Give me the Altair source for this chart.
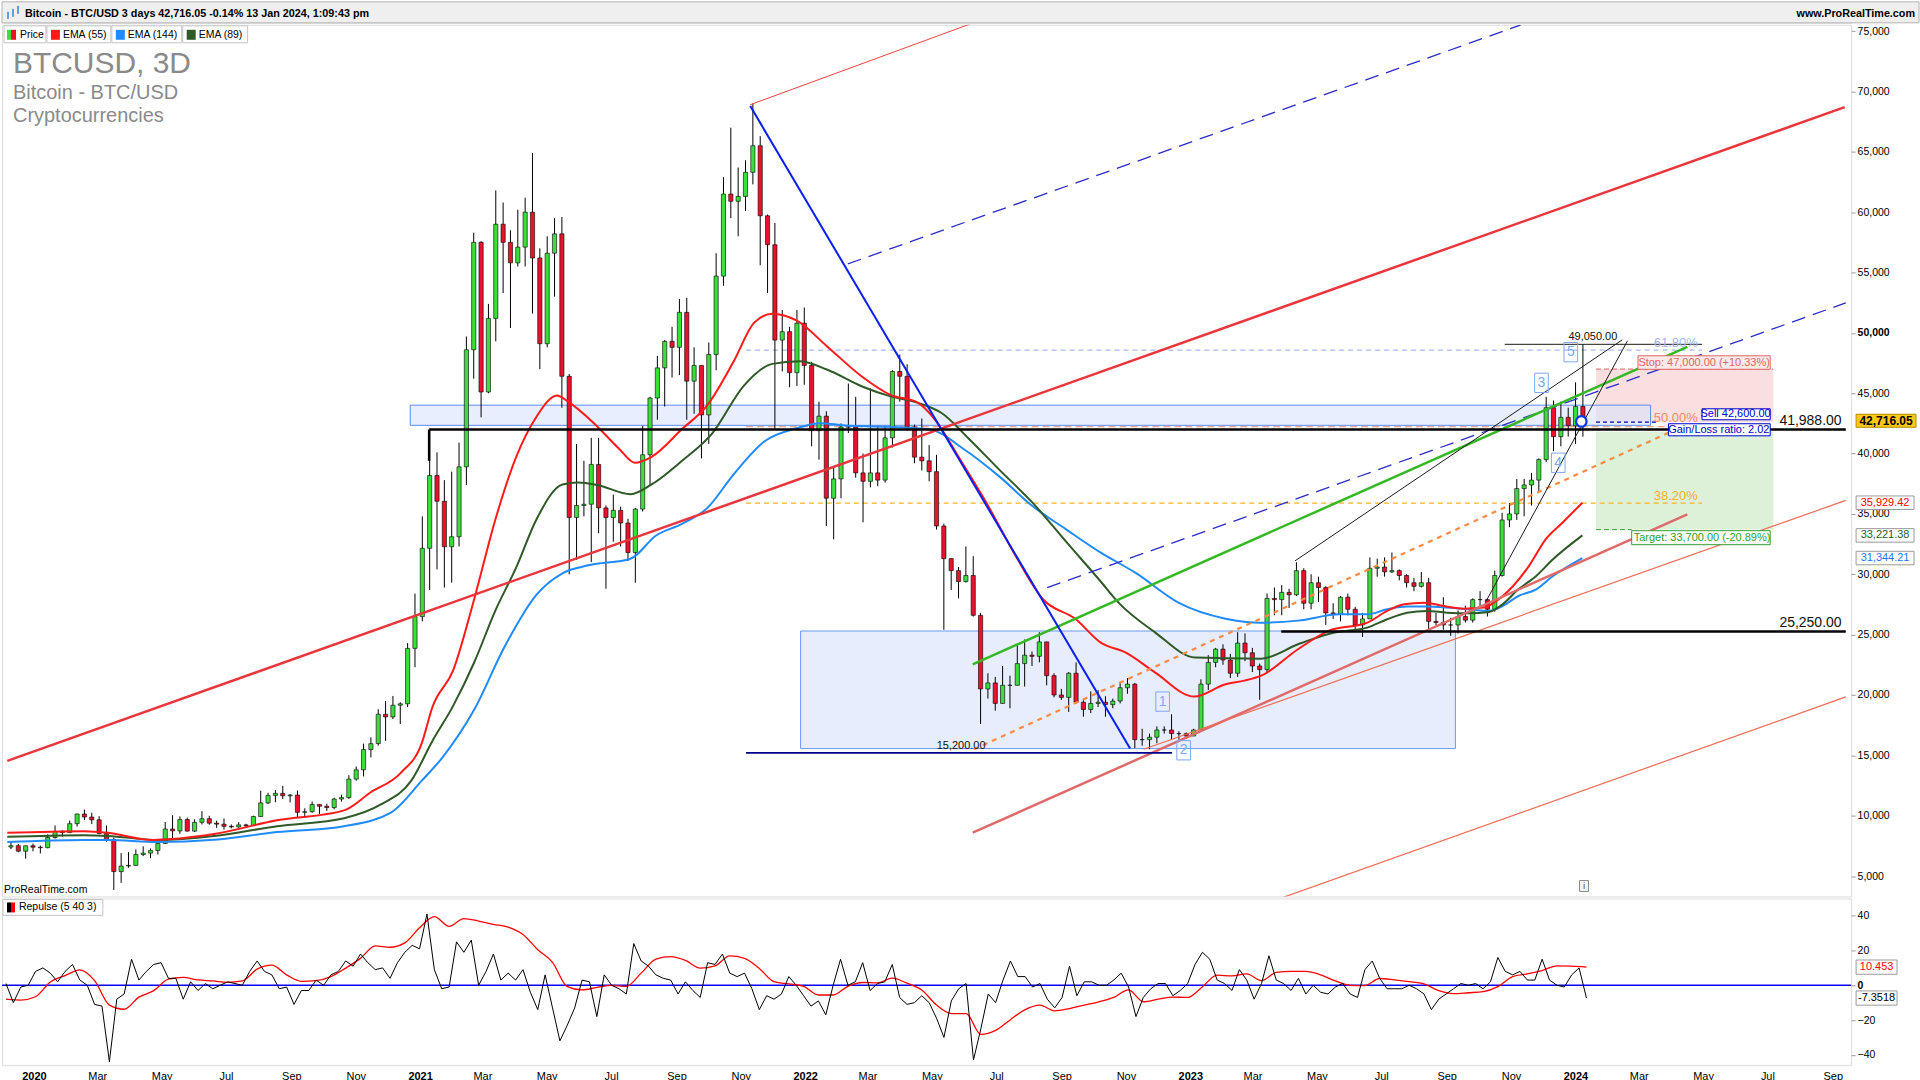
import altair as alt
import pandas as pd

FONT = "Liberation Sans"

# ================= DATA =================
# Weekly candles, weeks starting Mon 2019-12-02 ... Mon 2024-01-08 (open = previous close)
first_open = 7400
close_px = [7510, 7060, 7510, 7390, 7350, 8190, 8700, 8600, 9340, 10140,
            9890, 9660, 8530, 8030, 5370, 5830, 5880, 6780, 6900, 7120,
            7700, 8900, 8740, 9680, 8720, 9450, 9750, 9380, 9300, 9120,
            9070, 9240, 9170, 9930, 11060, 11680, 11850, 11650, 11710, 10280,
            10330, 10930, 10780, 10670, 11380, 11500, 13030, 13800, 15480, 15970,
            18400, 18180, 19150, 19270, 23860, 26490, 32150, 38180, 36050, 32280,
            33110, 38900, 48600, 57500, 45100, 51200, 59000, 57500, 55800, 57100,
            60000, 56200, 49100, 56600, 58200, 46400, 34700, 35700, 35800, 39100,
            35500, 34700, 35300, 34250, 31800, 35400, 39900, 44600, 47100, 49300,
            48800, 51700, 46000, 47300, 43200, 48200, 54700, 61500, 60900, 61300,
            63300, 65500, 59700, 57300, 49400, 50100, 46700, 50800, 47300, 41900,
            43100, 36300, 37900, 42200, 42200, 38400, 37700, 38400, 37800, 41300,
            46800, 46400, 42200, 39700, 39400, 38500, 34000, 31300, 30300, 29400,
            29900, 26600, 20500, 21000, 19300, 20800, 20800, 22600, 23300, 23200,
            24400, 21600, 20000, 19800, 21800, 19400, 18800, 19300, 19400, 19200,
            19500, 20600, 20900, 16300, 16300, 16500, 17100, 17100, 16800, 16800,
            16600, 17100, 20900, 22700, 23800, 22900, 21800, 24300, 23500, 22400,
            22100, 28000, 27900, 28500, 28300, 30300, 27600, 29300, 28900, 26800,
            26700, 28100, 27100, 25800, 26300, 30500, 30600, 30200, 30300, 29900,
            29300, 29000, 29300, 26100, 26000, 25800, 25800, 26500, 26200, 27900,
            27900, 27100, 29900, 34500, 35000, 37100, 37400, 37800, 39500, 43800,
            41400, 43000, 42300, 43900, 42716.05]
high_px = [7860, 7650, 7520, 7690, 7520, 8460, 9190, 8800, 9600, 10170,
           10500, 10250, 9960, 9190, 8180, 6900, 6980, 7200, 7460, 7290,
           7770, 9470, 10040, 9940, 9850, 9700, 10380, 9990, 9590, 9770,
           9270, 9470, 9330, 10000, 12070, 11900, 12120, 12470, 11800, 12090,
           10610, 11180, 10940, 10990, 11490, 11740, 13350, 14080, 15970, 16490,
           18820, 19500, 19920, 19400, 24300, 28400, 34800, 41950, 40100, 37800,
           38500, 40900, 49700, 58300, 57600, 52400, 61800, 60800, 58500, 60200,
           61200, 64900, 57000, 58000, 59500, 59600, 46600, 40800, 39400, 41300,
           41300, 35700, 36600, 35600, 34600, 35500, 42300, 44700, 48100, 49400,
           50500, 52800, 52900, 48800, 47300, 49200, 56600, 62900, 67000, 63700,
           64300, 69000, 66300, 59800, 59100, 51900, 50500, 51900, 52100, 47600,
           44300, 43500, 38900, 42500, 45800, 44700, 40000, 45400, 42300, 42300,
           46900, 48200, 47400, 42400, 42900, 40700, 39900, 34200, 31300, 30600,
           32300, 31500, 26800, 21800, 21500, 22400, 21600, 24200, 24600, 23600,
           25200, 24400, 21800, 20500, 21900, 22700, 19700, 20300, 20400, 19900,
           19700, 21000, 21400, 21000, 17200, 16800, 17400, 17400, 18400, 17000,
           16900, 17200, 21300, 23300, 23900, 24200, 23400, 25200, 25100, 23900,
           22600, 28400, 28900, 29100, 28800, 31000, 30500, 30000, 29800, 29000,
           27600, 28200, 28400, 27300, 26800, 31400, 31300, 31400, 31800, 30400,
           30000, 29700, 30200, 29700, 26800, 28100, 26400, 27000, 27400, 28000,
           28600, 28000, 30300, 35100, 35900, 37900, 37900, 38400, 39600, 44700,
           44400, 44300, 43800, 45900, 49050]
low_px = [7230, 6970, 6440, 7050, 6870, 7300, 8100, 8250, 8560, 9100,
          9650, 9300, 8460, 7850, 3850, 4440, 5690, 5860, 6650, 6480,
          6790, 7650, 8100, 8500, 8700, 8640, 9270, 9250, 8990, 8850,
          8950, 9000, 9050, 9150, 9920, 10960, 11110, 11380, 11100, 9880,
          9880, 10240, 10150, 10400, 10530, 11160, 11390, 12900, 13250, 14830,
          15800, 16200, 18000, 17600, 19000, 22300, 26100, 28700, 30400, 28900,
          29300, 32300, 37400, 46200, 43000, 45000, 49300, 53300, 50400, 55500,
          55500, 51600, 47000, 48800, 53000, 43800, 30000, 31200, 34800, 31000,
          33400, 28800, 32700, 32300, 31100, 29300, 35200, 37300, 42800, 43900,
          46300, 46500, 42800, 43300, 39600, 40800, 46900, 53900, 59500, 58000,
          60100, 62300, 55600, 53300, 42000, 46800, 45500, 45600, 45700, 40600,
          39500, 34000, 32900, 36300, 41700, 38000, 34300, 37200, 37300, 37600,
          40500, 44300, 41900, 39200, 38600, 37700, 33700, 25400, 28700, 28000,
          29300, 26500, 17600, 19700, 18700, 19300, 18900, 20800, 20700, 22400,
          22700, 20800, 19800, 19600, 18600, 19300, 18200, 18500, 19000, 18200,
          18900, 19300, 20100, 15600, 15800, 15500, 16000, 16800, 16300, 16300,
          16400, 16600, 17100, 20400, 22300, 22500, 21400, 21500, 22800, 21900,
          19600, 21900, 26600, 26600, 27200, 28200, 27100, 27100, 27700, 25800,
          26300, 26100, 26600, 25400, 24800, 26300, 29800, 29800, 30100, 29500,
          28900, 28600, 28900, 25200, 25800, 25400, 24900, 25100, 26000, 26000,
          27200, 26500, 26900, 29800, 33900, 34500, 34800, 35700, 36900, 39300,
          40200, 40600, 41400, 40800, 41400]

ema55_dates = ["2019-12-02", "2020-02-13", "2020-03-07", "2020-04-18", "2020-06-16", "2020-08-15",
               "2020-10-18", "2020-11-12", "2020-12-11", "2020-12-31", "2021-01-10", "2021-01-30",
               "2021-02-19", "2021-03-11", "2021-03-31", "2021-04-19", "2021-05-09", "2021-05-19",
               "2021-06-13", "2021-07-07", "2021-07-22", "2021-08-07", "2021-09-05", "2021-09-29",
               "2021-10-24", "2021-11-13", "2021-11-30", "2021-12-23", "2022-01-21", "2022-02-23",
               "2022-03-22", "2022-04-18", "2022-05-04", "2022-05-26", "2022-06-22", "2022-07-20",
               "2022-08-15", "2022-09-15", "2022-10-09", "2022-11-02", "2022-11-30", "2023-01-06",
               "2023-02-05", "2023-02-23", "2023-03-11", "2023-04-15", "2023-05-14", "2023-06-20",
               "2023-07-09", "2023-07-25", "2023-08-13", "2023-09-01", "2023-09-20", "2023-10-09",
               "2023-10-21", "2023-11-06", "2023-11-21", "2023-12-07", "2023-12-23", "2024-01-11"]
ema55_vals = [8580, 8710, 8580, 7990, 8480, 9620, 10440, 11920, 13550, 16010, 18960, 22060,
              27960, 34500, 39730, 43010, 44810, 44320, 42520, 40400, 39240, 39730, 42030, 43990,
              47600, 50870, 51590, 51030, 48900, 46410, 44890, 44200, 42820, 39790, 35930, 31520,
              27930, 26300, 24340, 23510, 21850, 19870, 20890, 21190, 21600, 23790, 25310, 25990,
              26960, 27510, 27650, 27370, 27150, 27240, 27790, 29030, 30680, 32890, 34270, 35929.42]

ema89_dates = ["2019-12-02", "2020-02-13", "2020-03-07", "2020-04-23", "2020-06-16", "2020-08-15",
               "2020-10-18", "2020-11-22", "2020-12-21", "2021-01-10", "2021-01-30", "2021-02-19",
               "2021-03-11", "2021-03-31", "2021-04-19", "2021-05-14", "2021-05-29", "2021-06-17",
               "2021-07-18", "2021-08-07", "2021-09-05", "2021-10-04", "2021-11-03", "2021-11-30",
               "2021-12-26", "2022-01-21", "2022-02-23", "2022-03-22", "2022-04-18", "2022-05-10",
               "2022-06-06", "2022-07-04", "2022-08-05", "2022-09-06", "2022-10-09", "2022-10-26",
               "2022-11-30", "2023-01-07", "2023-03-11", "2023-04-15", "2023-04-28", "2023-05-20",
               "2023-06-20", "2023-07-09", "2023-07-28", "2023-08-16", "2023-09-04", "2023-09-25",
               "2023-10-14", "2023-10-27", "2023-11-11", "2023-11-28", "2023-12-14", "2024-01-11"]
ema89_vals = [8250, 8380, 8320, 7990, 8310, 9130, 9790, 10930, 12900, 16170, 19120, 22710,
              26970, 30570, 34500, 37440, 37610, 37380, 36630, 37440, 39400, 41700, 45630, 47430,
              47650, 46960, 45580, 44760, 44200, 43380, 41170, 38690, 35930, 32700, 29400, 27650,
              25170, 23100, 23010, 24200, 24610, 25170, 25580, 26270, 26820, 26960, 26820, 26770,
              26880, 27510, 28750, 29860, 31240, 33221.38]

ema144_dates = ["2019-12-02", "2020-02-13", "2020-03-07", "2020-04-23", "2020-06-16", "2020-08-15",
                "2020-10-18", "2020-12-02", "2020-12-31", "2021-01-20", "2021-02-19", "2021-03-20",
                "2021-04-19", "2021-05-14", "2021-06-08", "2021-07-18", "2021-08-11", "2021-09-05",
                "2021-09-29", "2021-10-24", "2021-11-23", "2021-12-23", "2022-01-15", "2022-02-07",
                "2022-03-22", "2022-04-29", "2022-06-01", "2022-07-04", "2022-08-05", "2022-09-06",
                "2022-10-09", "2022-11-11", "2022-12-22", "2023-02-05", "2023-03-11", "2023-04-15",
                "2023-05-25", "2023-06-20", "2023-07-09", "2023-07-28", "2023-08-16", "2023-09-04",
                "2023-09-25", "2023-10-14", "2023-10-27", "2023-11-11", "2023-11-28", "2023-12-14",
                "2024-01-11"]
ema144_vals = [7820, 7990, 7990, 7820, 8000, 8640, 9130, 10280, 12900, 14860, 18790, 24020,
               28280, 30080, 30740, 31290, 33190, 34170, 35480, 38260, 41040, 42100, 42520, 42330,
               42220, 42000, 40340, 38130, 35650, 33720, 31790, 30130, 27650, 26320, 25990, 26160,
               26680, 26680, 27100, 27320, 27320, 27240, 27100, 26960, 27370, 28200, 28750, 29860,
               31344.21]

# Repulse (5 40 3): weekly black line, fortnightly red signal line
repulse_vals = [1, -10, -1, 0, 8, 10, 7, 2, 8, 12,
                3, 0, -11, -12, -44, -8, -5, 15, 3, 8,
                12, 13, 4, 4, -8, 2, -3, 1, -2, 0,
                2, 1, 0, 8, 14, 8, 6, -2, -1, -11,
                -3, -3, 3, 0, 6, 8, 14, 11, 18, 13,
                9, 10, 4, 13, 19, 23, 21, 41, 9, -2,
                -1, 25, 19, 26, 0, 8, 18, 3, 7, 3,
                9, -4, -14, 6, -13, -32, -23, -13, 3, 2,
                -18, 6, 0, -2, -5, 24, 14, 11, 6, 4,
                3, -5, 2, -3, -7, 13, 12, 18, 7, 5,
                7, -2, -14, -6, -8, -5, 5, 0, -6, -12,
                -9, -17, 0, 15, 0, 2, 13, -3, 1, 2,
                12, -7, -11, -10, -6, -10, -19, -30, -9, -2,
                1, -43, -25, -5, -10, 3, 14, 5, 5, -1,
                1, -8, -13, -7, 11, -6, 2, 2, 0, 0,
                3, 7, -1, -18, -7, -2, 1, 1, -6, -3,
                1, 12, 19, 15, 3, 1, -3, 9, 3, -8,
                1, 17, 3, 1, -3, 4, -5, 0, -4, -5,
                -1, 1, -5, -7, 9, 14, 4, -2, -2, -2,
                0, -2, -5, -14, -8, -5, -2, 1, 0, 1,
                -2, 2, 16, 8, 6, 8, 3, 3, 15, 3,
                0, -1, 6, 10, -7.3518]
repulse_signal = [-8, -8.5, -6.6, 1.9, 5.6, 8.9, 2.7, -11.4, -13.8, -6.8,
                  -3.1, 3.5, 4.5, 3.1, 2.5, 1.7, 2.5, 9.3, 11.6, 6,
                  2.3, 2.7, 5, 9.9, 15.5, 22.7, 21.9, 24.4, 33.1, 39.5,
                  33.9, 38.4, 37, 35.1, 33.5, 29.3, 20.5, 13.2, -0.8, -2.7,
                  -1.2, 0, -0.6, 7, 15.1, 16.5, 14.3, 9.9, 11.2, 16.9,
                  15.5, 9.7, 2.1, 0.8, -0.6, -5.6, -5.6, -0.6, 1.6, 1.4,
                  4.1, 1.2, -2.7, -11.4, -16.3, -16.3, -28.3, -26, -19.8, -14,
                  -11.4, -14.7, -13.4, -11.4, -9.5, -7, -2.7, -9.5, -8, -6.8,
                  -7, -0.8, 5.8, 5.4, 6.6, 2.7, 7.4, 8, 8, 6,
                  2.5, 0, -0.2, 3.9, 3.1, 2.1, 0.8, -3.1, -4.8, -4.3,
                  -3.7, -0.8, 5, 6.6, 8.5, 11.2, 11, 10.453]

# Drawn objects: (date1, price1, date2, price2)
segments = {
    "red_main": ("2019-12-02", 14540, "2024-09-17", 68700),
    "red_top": ("2021-11-09", 68900, "2022-06-07", 75600),
    "blue_down": ("2021-11-09", 68790, "2022-11-06", 15560),
    "blue_dash_up": ("2022-02-10", 55710, "2023-11-13", 75500),
    "blue_dash_low": ("2022-08-19", 28890, "2024-09-18", 52480),
    "green": ("2022-06-09", 22540, "2024-04-20", 48840),
    "orange_dash": ("2022-06-10", 15500, "2024-04-02", 41720),
    "pink": ("2022-06-09", 8590, "2024-04-20", 34960),
    "red_thin": ("2022-11-19", 15500, "2024-09-18", 36120),
    "orange_thin": ("2023-02-20", 2000, "2024-09-18", 19840),
    "wedge_a": ("2023-04-12", 31100, "2024-02-18", 49420),
    "wedge_b": ("2023-10-11", 27730, "2024-02-23", 49340),
    "high_49050": ("2023-10-29", 49050, "2024-05-04", 49050),
    "lvl_41988": ("2021-01-07", 41988, "2024-09-18", 41988),
    "lvl_41988_tick": ("2021-01-07", 41988, "2021-01-07", 39400),
    "lvl_25250": ("2023-03-30", 25250, "2024-09-18", 25250),
    "low_15200": ("2021-11-05", 15200, "2022-12-16", 15200),
    "fib_618": ("2021-11-05", 48570, "2024-05-04", 48570),
    "fib_500": ("2021-11-05", 42220, "2024-05-04", 42220),
    "fib_382": ("2021-11-05", 35900, "2024-05-04", 35900),
    "sell": ("2024-01-24", 42600, "2024-03-23", 42600),
    "stop": ("2024-01-24", 47000, "2024-07-11", 47000),
    "target": ("2024-01-24", 33700, "2024-02-27", 33700),
}
zones = {
    "box_low": ("2021-12-27", 15560, "2023-09-12", 25300),
    "box_up": ("2020-12-20", 42340, "2024-03-16", 44010),
    "zone_stop": ("2024-01-24", 42600, "2024-07-11", 47000),
    "zone_target": ("2024-01-24", 33700, "2024-07-11", 41800),
}
level_labels = [("41,988.00", "2024-09-14", 42700), ("25,250.00", "2024-09-14", 25990)]
small_labels = [("15,200.00", "2022-05-29", 15810), ("49,050.00", "2024-01-21", 49670)]
fib_labels = [("61.80%", "2024-03-19", 49170), ("50.00%", "2024-03-19", 42960), ("38.20%", "2024-03-19", 36510)]
order_boxes = [  # text, box date1, price1, date2, price2, text date, text price
    ("Stop: 47,000.00 (+10.33%)", "2024-03-04", 46980, "2024-07-08", 48100, "2024-05-06", 47540),
    ("Sell 42,600.00", "2024-05-04", 42800, "2024-07-08", 43710, "2024-06-05", 43250),
    ("Gain/Loss ratio: 2.02", "2024-04-02", 41470, "2024-07-08", 42470, "2024-05-20", 41970),
    ("Target: 33,700.00 (-20.89%)", "2024-02-27", 32450, "2024-07-08", 33610, "2024-05-04", 33030),
]
wave_labels = [("1", "2022-12-07", 19450), ("2", "2022-12-27", 15420), ("3", "2023-12-03", 45860),
               ("4", "2023-12-19", 39240), ("5", "2023-12-31", 48400)]
sell_marker = ("2024-01-10", 42660)
price_tags = [("42,716.05", 42716.05), ("35,929.42", 35929.42), ("33,221.38", 33221.38), ("31,344.21", 31344.21)]
ind_tags = [("10.453", 10.453), ("-7.3518", -7.3518)]

# ================= CHART =================
W, H_HEAD, H_MAIN, H_IND = 1852, 21, 873, 167
GREEN, RED = "#3ddc3d", "#e8122c"
C55, C89, C144 = "#ff1a1a", "#2f5a28", "#1f8bff"

xscale = alt.Scale(domain=[alt.DateTime(year=2019, month=12, date=1, hours=17),
                           alt.DateTime(year=2024, month=9, date=18, hours=8)])
yscale = alt.Scale(domain=[3310, 75520], nice=False, zero=False)
yaxis = alt.Axis(orient="right", values=list(range(5000, 75001, 5000)), format=",d", title=None,
                 grid=False, labelFont=FONT, labelFontSize=10.5, labelColor="#000", tickSize=4,
                 tickColor="#9a9a9a", domain=False, labelPadding=2, labelOverlap=False,
                 labelFontWeight={"condition": {"test": "datum.value == 50000", "value": "bold"},
                                  "value": "normal"})


def X(f="date"):
    return alt.X(f + ":T", scale=xscale, axis=None)


def Y(f="price"):
    return alt.Y(f + ":Q", scale=yscale, axis=yaxis)


def one():
    return alt.Chart(pd.DataFrame({"a": [0]}))


# ---- candles
n = len(close_px)
cdate = pd.date_range("2019-12-05 12:00", periods=n, freq="7D")
open_px = [first_open] + close_px[:-1]
cdf = pd.DataFrame({"date": cdate, "open": open_px, "close": close_px, "high": high_px, "low": low_px})
cdf["dir"] = ["up" if c >= o else "down" for o, c in zip(cdf["open"], cdf["close"])]

wick = alt.Chart(cdf).mark_rule(color="#000", strokeWidth=1).encode(x=X(), y=Y("low"), y2="high:Q")
body = alt.Chart(cdf).mark_bar(width=4.2, stroke="#000", strokeWidth=0.6).encode(
    x=X(), y=Y("open"), y2="close:Q",
    fill=alt.Fill("dir:N", scale=alt.Scale(domain=["up", "down"], range=[GREEN, RED]), legend=None))


def ema(dates, vals, color):
    df = pd.DataFrame({"date": pd.to_datetime(dates), "price": vals})
    return alt.Chart(df).mark_line(color=color, strokeWidth=2, interpolate="monotone", clip=True).encode(
        x=X(), y=Y())


def seg(names, color, width, dash=None, opacity=1.0):
    rows = [dict(d1=pd.Timestamp(segments[k][0]), p1=segments[k][1],
                 d2=pd.Timestamp(segments[k][2]), p2=segments[k][3]) for k in names]
    kw = dict(color=color, strokeWidth=width, clip=True, opacity=opacity)
    if dash:
        kw["strokeDash"] = dash
    return alt.Chart(pd.DataFrame(rows)).mark_rule(**kw).encode(
        x=X("d1"), x2="d2:T", y=Y("p1"), y2="p2:Q")


def zone(name, fill, stroke=None, opacity=1.0):
    d1, p1, d2, p2 = zones[name]
    df = pd.DataFrame({"d1": [pd.Timestamp(d1)], "d2": [pd.Timestamp(d2)], "p1": [p1], "p2": [p2]})
    kw = dict(fill=fill, fillOpacity=opacity, clip=True)
    if stroke:
        kw.update(stroke=stroke, strokeWidth=1)
    return alt.Chart(df).mark_rect(**kw).encode(x=X("d1"), x2="d2:T", y=Y("p1"), y2="p2:Q")


def texts(items, color, size, align="left", weight="normal"):
    df = pd.DataFrame({"t": [i[0] for i in items], "date": pd.to_datetime([i[1] for i in items]),
                       "price": [i[2] for i in items]})
    return alt.Chart(df).mark_text(align=align, baseline="middle", color=color, fontSize=size,
                                   font=FONT, fontWeight=weight, clip=False).encode(
        x=X(), y=Y(), text="t:N")


layers = []
# zones
layers += [zone("zone_stop", "#f9dfdf"), zone("zone_target", "#ddf0d8"),
           zone("box_low", "#dfe7fb", "#6b98f2", 0.75), zone("box_up", "#d8e3fb", "#5b8cf0", 0.6)]
# fib / horizontal dashed levels
layers += [seg(["fib_618"], "#a9b9ef", 1.2, [5, 4]), seg(["fib_500"], "#f08c66", 1.2, [7, 4]),
           seg(["fib_382"], "#ffb11f", 1.2, [5, 4]),
           seg(["stop"], "#e06060", 1, [5, 3]), seg(["target"], "#33a033", 1, [5, 3]),
           seg(["sell"], "#0000aa", 1.2, [4, 3])]
# candles + EMAs
layers += [wick, body, ema(ema144_dates, ema144_vals, C144), ema(ema89_dates, ema89_vals, C89),
           ema(ema55_dates, ema55_vals, C55)]
# drawn trend lines
layers += [seg(["red_main"], "#e8363c", 2.5), seg(["red_top"], "#ee4040", 1),
           seg(["pink"], "#df6a6a", 2.5), seg(["red_thin", "orange_thin"], "#ee6a55", 1.2),
           seg(["orange_dash"], "#ff8a45", 2.2, [5, 5]),
           seg(["blue_dash_up", "blue_dash_low"], "#2b2bc8", 1.3, [14, 8]),
           seg(["green"], "#34b823", 2.5), seg(["blue_down"], "#0a1ff0", 2),
           seg(["wedge_a", "wedge_b", "high_49050"], "#1a1a1a", 1),
           seg(["lvl_41988", "lvl_25250", "lvl_41988_tick"], "#000", 2.5),
           seg(["low_15200"], "#00008c", 1.6)]
# labels
layers += [texts(level_labels, "#111", 14, "right"), texts(small_labels, "#111", 11, "center"),
           texts(fib_labels[:1], "#a4b6ee", 13), texts(fib_labels[1:2], "#f08c66", 13),
           texts(fib_labels[2:], "#f3ae2a", 13)]

ob_styles = [("#e06666", "#fbeaea"), ("#0000cc", "#ffffff"), ("#0000cc", "#ffffff"), ("#2f9e2f", "#ffffff")]
for (t, d1, p1, d2, p2, td, tp), (col, bg) in zip(order_boxes, ob_styles):
    df = pd.DataFrame({"d1": [pd.Timestamp(d1)], "d2": [pd.Timestamp(d2)], "p1": [p1], "p2": [p2]})
    layers.append(alt.Chart(df).mark_rect(fill=bg, stroke=col, strokeWidth=1).encode(
        x=X("d1"), x2="d2:T", y=Y("p1"), y2="p2:Q"))
    layers.append(texts([(t, td, tp)], col, 11, "center"))

# wave count boxes
wdf = pd.DataFrame({"t": [w[0] for w in wave_labels], "date": pd.to_datetime([w[1] for w in wave_labels]),
                    "price": [w[2] for w in wave_labels]})
wdf["d1"] = wdf["date"] - pd.Timedelta(days=6.5)
wdf["d2"] = wdf["date"] + pd.Timedelta(days=6.5)
wdf["p1"] = wdf["price"] - 800
wdf["p2"] = wdf["price"] + 800
layers.append(alt.Chart(wdf).mark_rect(fill="white", fillOpacity=0.0, stroke="#7ea7f2", strokeWidth=1).encode(
    x=X("d1"), x2="d2:T", y=Y("p1"), y2="p2:Q"))
layers.append(alt.Chart(wdf).mark_text(color="#7ea7f2", fontSize=14, font=FONT, baseline="middle").encode(
    x=X(), y=Y(), text="t:N"))

# sell marker
layers.append(alt.Chart(pd.DataFrame({"date": [pd.Timestamp(sell_marker[0])], "price": [sell_marker[1]]}))
              .mark_point(shape="circle", size=110, filled=True, fill="white", stroke="#0a35f0",
                          strokeWidth=2.2, opacity=1).encode(x=X(), y=Y()))

# right-hand value tags
tag_styles = [("#000", "#ffc916", "#b58a00", "bold", 12), ("#ff0000", "#ffffff", "#9a9a9a", "normal", 11),
              ("#2f5a28", "#ffffff", "#9a9a9a", "normal", 11), ("#1f75ff", "#ffffff", "#9a9a9a", "normal", 11)]
for (lab, v), (tc, bg, bc, fw, fs) in zip(price_tags, tag_styles):
    half = 540 if fw == "bold" else 560
    df = pd.DataFrame({"price": [v], "lo": [v - half], "hi": [v + half], "t": [lab]})
    layers.append(alt.Chart(df).mark_rect(fill=bg, stroke=bc, strokeWidth=1).encode(
        x=alt.value(1857), x2=alt.value(1917 if fw == "bold" else 1915), y=Y("lo"), y2="hi:Q"))
    layers.append(alt.Chart(df).mark_text(color=tc, fontSize=fs, fontWeight=fw, font=FONT,
                                          align="center", baseline="middle").encode(
        x=alt.value(1887 if fw == "bold" else 1886), y=Y(), text="t:N"))

# top-left legend and titles (pixel layout)
leg_items = [("Price", 2, 44, None), ("EMA (55)", 45, 109, C55), ("EMA (144)", 110, 180, C144),
             ("EMA (89)", 181, 246, C89)]
for lab, a, b, col in leg_items:
    layers.append(one().mark_rect(fill="#ffffff", stroke="#c4c4c4", strokeWidth=1).encode(
        x=alt.value(a), x2=alt.value(b), y=alt.value(1), y2=alt.value(18)))
    if col is None:
        layers.append(one().mark_rect(fill=GREEN).encode(x=alt.value(a + 3), x2=alt.value(a + 7),
                                                         y=alt.value(5), y2=alt.value(15)))
        layers.append(one().mark_rect(fill=RED).encode(x=alt.value(a + 7), x2=alt.value(a + 12),
                                                       y=alt.value(5), y2=alt.value(15)))
    else:
        layers.append(one().mark_rect(fill=col).encode(x=alt.value(a + 4), x2=alt.value(a + 13),
                                                       y=alt.value(5), y2=alt.value(15)))
    layers.append(alt.Chart(pd.DataFrame({"t": [lab]})).mark_text(
        align="left", baseline="middle", fontSize=10.5, font=FONT, color="#000").encode(
        x=alt.value(a + 16), y=alt.value(10), text="t:N"))

for lab, yy, fs in [("BTCUSD, 3D", 48, 30), ("Bitcoin - BTC/USD", 74, 20), ("Cryptocurrencies", 97, 20)]:
    layers.append(alt.Chart(pd.DataFrame({"t": [lab]})).mark_text(
        align="left", baseline="alphabetic", fontSize=fs, font=FONT, color="#8a8a8a").encode(
        x=alt.value(11), y=alt.value(yy), text="t:N"))
layers.append(alt.Chart(pd.DataFrame({"t": ["ProRealTime.com"]})).mark_text(
    align="left", baseline="alphabetic", fontSize=10.5, font=FONT, color="#000").encode(
    x=alt.value(2), y=alt.value(870), text="t:N"))
layers.append(one().mark_rect(fill="#f4f4f4", stroke="#8a8a8a", strokeWidth=1).encode(
    x=alt.value(1580), x2=alt.value(1589), y=alt.value(857), y2=alt.value(868)))
layers.append(alt.Chart(pd.DataFrame({"t": ["i"]})).mark_text(fontSize=10, font=FONT, color="#555").encode(
    x=alt.value(1584.5), y=alt.value(863), text="t:N"))

main = alt.layer(*layers).properties(width=W, height=H_MAIN)

# ---- header
header_text = "Bitcoin - BTC/USD 3 days 42,716.05 -0.14% 13 Jan 2024, 1:09:43 pm"
header = alt.layer(
    one().mark_rect(fill="#efefef", stroke="#b4b4b4", strokeWidth=1).encode(
        x=alt.value(0), x2=alt.value(1920), y=alt.value(0), y2=alt.value(21)),
    one().mark_rect(fill="#5aa0e6").encode(x=alt.value(5), x2=alt.value(7), y=alt.value(10), y2=alt.value(17)),
    one().mark_rect(fill="#5aa0e6").encode(x=alt.value(10), x2=alt.value(12), y=alt.value(7), y2=alt.value(15)),
    one().mark_rect(fill="#5aa0e6").encode(x=alt.value(15), x2=alt.value(17), y=alt.value(4), y2=alt.value(12)),
    alt.Chart(pd.DataFrame({"t": [header_text]})).mark_text(
        align="left", baseline="middle", fontWeight="bold", fontSize=10.8, font=FONT, color="#000").encode(
        x=alt.value(23), y=alt.value(12), text="t:N"),
    alt.Chart(pd.DataFrame({"t": ["www.ProRealTime.com"]})).mark_text(
        align="right", baseline="middle", fontWeight="bold", fontSize=10.8, font=FONT, color="#000").encode(
        x=alt.value(1916), y=alt.value(12), text="t:N"),
).properties(width=W, height=H_HEAD)

# ---- indicator
iscale = alt.Scale(domain=[-46, 50], nice=False, zero=False)
iaxis = alt.Axis(orient="right", values=[-40, -20, 0, 20, 40], title=None, grid=False, labelFont=FONT,
                 labelFontSize=10.5, labelColor="#000", tickSize=4, tickColor="#9a9a9a", domain=False,
                 labelPadding=2,
                 labelFontWeight={"condition": {"test": "datum.value == 0", "value": "bold"}, "value": "normal"})
xticks = [alt.DateTime(year=2020 + (i * 2) // 12, month=(i * 2) % 12 + 1, date=1) for i in range(29)]
ixaxis = alt.Axis(values=xticks, title=None, grid=False, ticks=False, domain=False, labelFont=FONT,
                  labelFontSize=11, labelColor="#000", labelPadding=5, labelOverlap=False, labelFlush=False,
                  labelExpr="month(datum.value) == 0 ? timeFormat(datum.value, '%Y') : timeFormat(datum.value, '%b')",
                  labelFontWeight={"condition": {"test": "month(datum.value) == 0", "value": "bold"},
                                   "value": "normal"})


def IX(f="date"):
    return alt.X(f + ":T", scale=xscale, axis=ixaxis)


def IY(f="v"):
    return alt.Y(f + ":Q", scale=iscale, axis=iaxis)


rdf = pd.DataFrame({"date": cdate, "v": repulse_vals})
sdf = pd.DataFrame({"date": cdate[::2], "v": repulse_signal})
ilayers = [
    alt.Chart(pd.DataFrame({"v": [0]})).mark_rule(color="#0000ff", strokeWidth=1.6).encode(y=IY()),
    alt.Chart(sdf).mark_line(color="#ff0000", strokeWidth=1.3, interpolate="monotone").encode(x=IX(), y=IY()),
    alt.Chart(rdf).mark_line(color="#000", strokeWidth=1).encode(x=IX(), y=IY()),
]
for (lab, v), tc in zip(ind_tags, ["#ff0000", "#000"]):
    df = pd.DataFrame({"v": [v], "lo": [v - 4.1], "hi": [v + 4.1], "t": [lab]})
    ilayers.append(alt.Chart(df).mark_rect(fill="white", stroke="#9a9a9a", strokeWidth=1).encode(
        x=alt.value(1857), x2=alt.value(1898), y=IY("lo"), y2="hi:Q"))
    ilayers.append(alt.Chart(df).mark_text(color=tc, fontSize=11, font=FONT, align="center",
                                           baseline="middle").encode(x=alt.value(1877.5), y=IY(), text="t:N"))
ilayers += [
    one().mark_rect(fill="#ffffff", stroke="#c4c4c4", strokeWidth=1).encode(
        x=alt.value(1), x2=alt.value(101), y=alt.value(1), y2=alt.value(17)),
    one().mark_rect(fill="#000").encode(x=alt.value(5), x2=alt.value(9), y=alt.value(4), y2=alt.value(14)),
    one().mark_rect(fill="#ff0000").encode(x=alt.value(9), x2=alt.value(13), y=alt.value(4), y2=alt.value(14)),
    alt.Chart(pd.DataFrame({"t": ["Repulse (5 40 3)"]})).mark_text(
        align="left", baseline="middle", fontSize=10.5, font=FONT, color="#000").encode(
        x=alt.value(17), y=alt.value(9), text="t:N"),
]
ind = alt.layer(*ilayers).properties(width=W, height=H_IND)

chart = alt.vconcat(header, main, ind, spacing=0).properties(
    padding={"left": 0, "top": 0, "right": 0, "bottom": 0}, background="white"
).configure_view(stroke="#a8a8a8", strokeWidth=1).configure(font=FONT)

chart.save("out.html", embed_options={"renderer": "svg", "actions": False})
